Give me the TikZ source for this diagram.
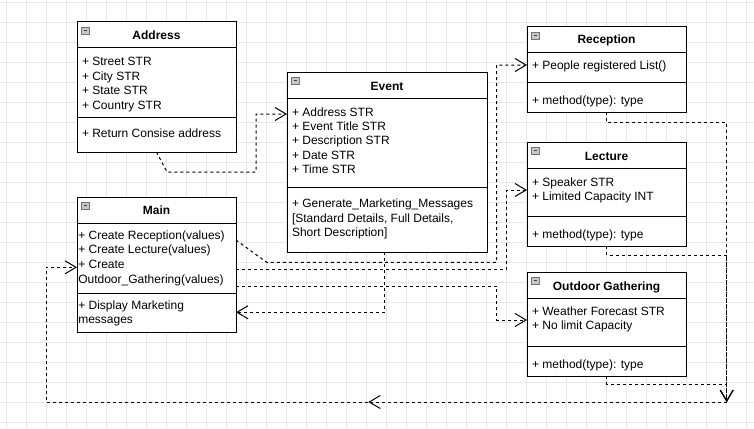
\documentclass[tikz,border=0pt]{standalone}
\usepackage{fontspec}
\setmainfont{Liberation Sans}
\usetikzlibrary{arrows.meta,calc}
\begin{document}
\begin{tikzpicture}[x=1pt,y=-1pt,
  umlbox/.style={draw, fill=white, line width=1pt, rectangle, inner sep=0pt, outer sep=0pt, anchor=north west},
  txt/.style={font=\fontsize{12}{14.4}\selectfont, inner sep=0pt, outer sep=0pt, anchor=base west},
  ttl/.style={font=\fontsize{12}{14.4}\selectfont\bfseries, inner sep=0pt, outer sep=0pt, anchor=base},
  sepline/.style={draw, line width=1pt},
  link/.style={draw, line width=1pt, dash pattern=on 3pt off 3pt},
  conn/.style={link, -{Straight Barb[length=11pt,width=13pt]}},
  gridline/.style={draw=black!9, line width=0.7pt},
  collapse/.pic={
    \draw[fill=black!22, draw=black!55, line width=0.7pt] (0,0) rectangle (7.5,7);
    \draw[black!75, line width=1pt] (1.8,3.5) -- (5.7,3.5);
  }
]
\useasboundingbox (0,0) rectangle (754,428);
\fill[white] (0,0) rectangle (754,428);
\foreach \i in {0,...,37} \draw[gridline] (6.7+20*\i,0) -- (6.7+20*\i,428);
\foreach \j in {0,...,21} \draw[gridline] (0,2.7+20*\j) -- (754,2.7+20*\j);

% ---------- Address ----------
\node[umlbox, minimum width=159pt, minimum height=130pt] (address) at (77,22) {};
\draw[sepline] (address.west |- 0,48) -- (address.east |- 0,48);
\draw[sepline] (address.west |- 0,117) -- (address.east |- 0,117);
\pic at ($(address.north west)+(4.7,5.3)$) {collapse};
\node[ttl] (address-t) at (156.5,40) {Address};
\node[txt] (address-a1) at (82,66) {+ Street STR};
\node[txt] (address-a2) at (82,80.4) {+ City STR};
\node[txt] (address-a3) at (82,94.8) {+ State STR};
\node[txt] (address-a4) at (82,109.2) {+ Country STR};
\node[txt] (address-m1) at (82,137.6) {+ Return Consise address};

% ---------- Event ----------
\node[umlbox, minimum width=200pt, minimum height=180pt] (event) at (287,72) {};
\draw[sepline] (event.west |- 0,98) -- (event.east |- 0,98);
\draw[sepline] (event.west |- 0,187) -- (event.east |- 0,187);
\pic at ($(event.north west)+(4.7,5.3)$) {collapse};
\node[ttl] (event-t) at (387,90) {Event};
\node[txt] (event-a1) at (292,116) {+ Address STR};
\node[txt] (event-a2) at (292,130.4) {+ Event Title STR};
\node[txt] (event-a3) at (292,144.8) {+ Description STR};
\node[txt] (event-a4) at (292,159.2) {+ Date STR};
\node[txt] (event-a5) at (292,173.6) {+ Time STR};
\node[txt] (event-m1) at (292,207.6) {+ Generate\_Marketing\_Messages};
\node[txt] (event-m2) at (292,222) {[Standard Details, Full Details,};
\node[txt] (event-m3) at (292,236.4) {Short Description]};

% ---------- Main ----------
\node[umlbox, minimum width=159pt, minimum height=135pt] (main) at (77,197) {};
\draw[sepline] (main.west |- 0,223) -- (main.east |- 0,223);
\draw[sepline] (main.west |- 0,293) -- (main.east |- 0,293);
\pic at ($(main.north west)+(4.7,5.3)$) {collapse};
\node[ttl] (main-t) at (156.5,214.3) {Main};
\node[txt] (main-a1) at (78.3,239.3) {+ Create Reception(values)};
\node[txt] (main-a2) at (78.3,253.9) {+ Create Lecture(values)};
\node[txt] (main-a3) at (78.3,268.6) {+ Create};
\node[txt] (main-a4) at (78.3,283.2) {Outdoor\_Gathering(values)};
\node[txt] (main-m1) at (78.3,309.3) {+ Display Marketing};
\node[txt] (main-m2) at (78.3,323.7) {messages};

% ---------- Reception ----------
\node[umlbox, minimum width=159pt, minimum height=85pt] (reception) at (527,27) {};
\draw[sepline] (reception.west |- 0,53) -- (reception.east |- 0,53);
\draw[sepline] (reception.west |- 0,82) -- (reception.east |- 0,82);
\pic at ($(reception.north west)+(4.7,5.3)$) {collapse};
\node[ttl] (reception-t) at (606.5,43.6) {Reception};
\node[txt] (reception-a1) at (532,70) {+ People registered List()};
\node[txt] (reception-m1) at (532,104.3) {+ method(type): type};

% ---------- Lecture ----------
\node[umlbox, minimum width=159pt, minimum height=104pt] (lecture) at (527,142) {};
\draw[sepline] (lecture.west |- 0,168) -- (lecture.east |- 0,168);
\draw[sepline] (lecture.west |- 0,216) -- (lecture.east |- 0,216);
\pic at ($(lecture.north west)+(4.7,5.3)$) {collapse};
\node[ttl] (lecture-t) at (606.5,160) {Lecture};
\node[txt] (lecture-a1) at (532,186) {+ Speaker STR};
\node[txt] (lecture-a2) at (532,200.4) {+ Limited Capacity INT};
\node[txt] (lecture-m1) at (532,238.3) {+ method(type): type};

% ---------- Outdoor Gathering ----------
\node[umlbox, minimum width=159pt, minimum height=104pt] (outdoor) at (527,272) {};
\draw[sepline] (outdoor.west |- 0,298) -- (outdoor.east |- 0,298);
\draw[sepline] (outdoor.west |- 0,346) -- (outdoor.east |- 0,346);
\pic at ($(outdoor.north west)+(4.7,5.3)$) {collapse};
\node[ttl] (outdoor-t) at (606.5,290) {Outdoor Gathering};
\node[txt] (outdoor-a1) at (532,315.3) {+ Weather Forecast STR};
\node[txt] (outdoor-a2) at (532,329.7) {+ No limit Capacity};
\node[txt] (outdoor-m1) at (532,368.3) {+ method(type): type};

% ---------- connectors ----------
\coordinate (merge) at (726.7,402);
\coordinate (midtip) at (368.3,402);
\coordinate (loop) at (46,402);

% Address -> Event
\draw[conn] (address.south) -- (167,172) -- (256,172) |- (event.west |- 0,114);
% Main -> Reception
\draw[conn] (main.east |- 0,240) -- (266.7,262.3) -- (496.7,262.3) |- (reception.west |- 0,65);
% Main -> Lecture
\draw[conn] (main.east |- 0,269.3) -| (506.7,190) -- (lecture.west |- 0,190);
% Main -> Outdoor
\draw[conn] (main.east |- 0,286) -| (496.7,320) -- (outdoor.west |- 0,320);
% Event -> Main
\draw[conn] (event.south -| 384.3,0) |- (main.east |- 0,312.3);
% Reception / Lecture / Outdoor -> merge point
\draw[conn] (reception.south) -- ++(0,10.3) -| (merge);
\draw[conn] (lecture.south) -- ++(0,9) -| (merge);
\draw[conn] (outdoor.south) -- ++(0,8) -| (merge);
% merge -> Main
\draw[conn] (merge) -- (midtip);
\draw[conn] (midtip) -- (loop) |- (main.west |- 0,267.3);
\end{tikzpicture}
\end{document}
